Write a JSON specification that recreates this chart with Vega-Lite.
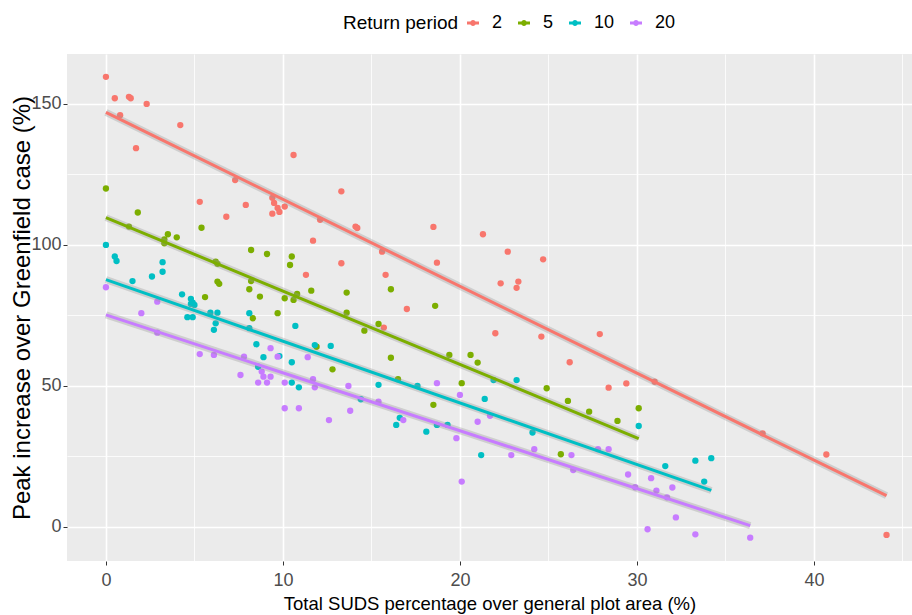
{
  "$schema": "https://vega.github.io/schema/vega-lite/v6.json",
  "width": 845,
  "height": 507,
  "autosize": {"type": "none"},
  "padding": {"left": 67, "top": 54, "right": 0, "bottom": 54},
  "background": "white",
  "config": {
    "view": {"fill": "#EBEBEB", "stroke": null},
    "axis": {
      "domain": false,
      "gridColor": "white",
      "tickColor": "#333333",
      "tickSize": 4,
      "tickWidth": 1,
      "labelColor": "#4D4D4D",
      "labelFont": "Liberation Sans",
      "labelFontSize": 18,
      "titleFontWeight": "normal",
      "titleColor": "black"
    },
    "legend": {
      "orient": "none",
      "legendX": 276,
      "legendY": -40,
      "direction": "horizontal",
      "titleOrient": "left",
      "titleFont": "Liberation Sans",
      "titleFontSize": 19,
      "titleFontWeight": "normal",
      "titleColor": "black",
      "titlePadding": 5,
      "labelFont": "Liberation Sans",
      "labelFontSize": 18,
      "labelColor": "black",
      "labelOffset": 10,
      "columnPadding": 9,
      "symbolSize": 144,
      "symbolStrokeWidth": 3,
      "symbolOpacity": 1
    }
  },
  "datasets": {
    "pts": [
      {"x": 0.0, "y": 159.6, "period": "2"},
      {"x": 0.5, "y": 152.0, "period": "2"},
      {"x": 1.3, "y": 152.5, "period": "2"},
      {"x": 1.4, "y": 152.0, "period": "2"},
      {"x": 2.3, "y": 150.0, "period": "2"},
      {"x": 0.8, "y": 146.0, "period": "2"},
      {"x": 4.2, "y": 142.5, "period": "2"},
      {"x": 1.7, "y": 134.3, "period": "2"},
      {"x": 7.3, "y": 123.0, "period": "2"},
      {"x": 5.3, "y": 115.3, "period": "2"},
      {"x": 7.9, "y": 114.2, "period": "2"},
      {"x": 9.4, "y": 116.7, "period": "2"},
      {"x": 9.5, "y": 114.9, "period": "2"},
      {"x": 9.7, "y": 113.1, "period": "2"},
      {"x": 10.1, "y": 113.6, "period": "2"},
      {"x": 9.8, "y": 111.7, "period": "2"},
      {"x": 9.4, "y": 111.1, "period": "2"},
      {"x": 6.8, "y": 110.0, "period": "2"},
      {"x": 10.6, "y": 131.9, "period": "2"},
      {"x": 13.3, "y": 119.0, "period": "2"},
      {"x": 12.1, "y": 108.9, "period": "2"},
      {"x": 14.1, "y": 106.5, "period": "2"},
      {"x": 14.2, "y": 106.0, "period": "2"},
      {"x": 18.5, "y": 106.4, "period": "2"},
      {"x": 11.7, "y": 101.5, "period": "2"},
      {"x": 15.6, "y": 97.6, "period": "2"},
      {"x": 18.7, "y": 93.7, "period": "2"},
      {"x": 13.3, "y": 93.5, "period": "2"},
      {"x": 11.3, "y": 89.4, "period": "2"},
      {"x": 15.8, "y": 89.4, "period": "2"},
      {"x": 17.0, "y": 77.3, "period": "2"},
      {"x": 15.7, "y": 70.7, "period": "2"},
      {"x": 21.3, "y": 103.8, "period": "2"},
      {"x": 22.7, "y": 97.6, "period": "2"},
      {"x": 24.7, "y": 94.9, "period": "2"},
      {"x": 22.3, "y": 86.4, "period": "2"},
      {"x": 23.3, "y": 87.0, "period": "2"},
      {"x": 23.2, "y": 84.8, "period": "2"},
      {"x": 22.0, "y": 68.7, "period": "2"},
      {"x": 24.6, "y": 67.5, "period": "2"},
      {"x": 27.9, "y": 68.4, "period": "2"},
      {"x": 26.2, "y": 58.4, "period": "2"},
      {"x": 28.4, "y": 49.4, "period": "2"},
      {"x": 29.4, "y": 50.9, "period": "2"},
      {"x": 31.0, "y": 51.5, "period": "2"},
      {"x": 37.1, "y": 33.2, "period": "2"},
      {"x": 40.7, "y": 25.7, "period": "2"},
      {"x": 44.1, "y": -2.8, "period": "2"},
      {"x": 0.0, "y": 120.0, "period": "5"},
      {"x": 1.8, "y": 111.5, "period": "5"},
      {"x": 1.3, "y": 106.5, "period": "5"},
      {"x": 3.5, "y": 103.8, "period": "5"},
      {"x": 4.0, "y": 102.7, "period": "5"},
      {"x": 3.3, "y": 102.0, "period": "5"},
      {"x": 3.3, "y": 100.6, "period": "5"},
      {"x": 5.4, "y": 106.1, "period": "5"},
      {"x": 6.2, "y": 94.1, "period": "5"},
      {"x": 6.3, "y": 93.3, "period": "5"},
      {"x": 6.3, "y": 87.0, "period": "5"},
      {"x": 6.4, "y": 86.2, "period": "5"},
      {"x": 5.6, "y": 81.5, "period": "5"},
      {"x": 8.2, "y": 98.2, "period": "5"},
      {"x": 9.1, "y": 96.8, "period": "5"},
      {"x": 8.2, "y": 87.2, "period": "5"},
      {"x": 8.1, "y": 84.3, "period": "5"},
      {"x": 8.7, "y": 81.7, "period": "5"},
      {"x": 8.3, "y": 74.0, "period": "5"},
      {"x": 9.7, "y": 75.8, "period": "5"},
      {"x": 10.5, "y": 95.9, "period": "5"},
      {"x": 10.4, "y": 92.9, "period": "5"},
      {"x": 10.1, "y": 81.1, "period": "5"},
      {"x": 10.6, "y": 80.5, "period": "5"},
      {"x": 10.8, "y": 82.6, "period": "5"},
      {"x": 11.6, "y": 83.8, "period": "5"},
      {"x": 13.6, "y": 83.1, "period": "5"},
      {"x": 16.1, "y": 84.3, "period": "5"},
      {"x": 18.6, "y": 78.4, "period": "5"},
      {"x": 13.6, "y": 76.0, "period": "5"},
      {"x": 14.6, "y": 69.6, "period": "5"},
      {"x": 15.4, "y": 72.0, "period": "5"},
      {"x": 11.9, "y": 63.9, "period": "5"},
      {"x": 16.1, "y": 60.0, "period": "5"},
      {"x": 12.8, "y": 55.9, "period": "5"},
      {"x": 16.5, "y": 52.4, "period": "5"},
      {"x": 19.4, "y": 61.0, "period": "5"},
      {"x": 20.6, "y": 61.0, "period": "5"},
      {"x": 21.0, "y": 58.3, "period": "5"},
      {"x": 20.1, "y": 51.0, "period": "5"},
      {"x": 18.5, "y": 43.3, "period": "5"},
      {"x": 24.9, "y": 49.2, "period": "5"},
      {"x": 26.1, "y": 44.7, "period": "5"},
      {"x": 27.3, "y": 40.9, "period": "5"},
      {"x": 28.9, "y": 37.6, "period": "5"},
      {"x": 30.1, "y": 42.1, "period": "5"},
      {"x": 25.7, "y": 25.8, "period": "5"},
      {"x": 0.0, "y": 100.0, "period": "10"},
      {"x": 0.5, "y": 95.9, "period": "10"},
      {"x": 0.6, "y": 94.3, "period": "10"},
      {"x": 1.5, "y": 87.2, "period": "10"},
      {"x": 2.6, "y": 88.8, "period": "10"},
      {"x": 3.2, "y": 93.9, "period": "10"},
      {"x": 3.2, "y": 90.5, "period": "10"},
      {"x": 4.3, "y": 82.5, "period": "10"},
      {"x": 4.8, "y": 80.9, "period": "10"},
      {"x": 4.9, "y": 79.5, "period": "10"},
      {"x": 4.8, "y": 79.1, "period": "10"},
      {"x": 5.0, "y": 78.7, "period": "10"},
      {"x": 4.6, "y": 74.4, "period": "10"},
      {"x": 4.9, "y": 74.4, "period": "10"},
      {"x": 5.9, "y": 76.0, "period": "10"},
      {"x": 6.3, "y": 76.0, "period": "10"},
      {"x": 6.2, "y": 72.2, "period": "10"},
      {"x": 6.1, "y": 69.9, "period": "10"},
      {"x": 8.1, "y": 75.8, "period": "10"},
      {"x": 8.1, "y": 70.5, "period": "10"},
      {"x": 8.5, "y": 64.8, "period": "10"},
      {"x": 8.9, "y": 60.2, "period": "10"},
      {"x": 8.6, "y": 56.8, "period": "10"},
      {"x": 10.7, "y": 71.3, "period": "10"},
      {"x": 9.8, "y": 60.6, "period": "10"},
      {"x": 10.5, "y": 58.4, "period": "10"},
      {"x": 11.8, "y": 64.5, "period": "10"},
      {"x": 12.7, "y": 64.2, "period": "10"},
      {"x": 10.5, "y": 51.2, "period": "10"},
      {"x": 10.9, "y": 49.5, "period": "10"},
      {"x": 14.4, "y": 45.3, "period": "10"},
      {"x": 15.4, "y": 50.4, "period": "10"},
      {"x": 17.6, "y": 50.0, "period": "10"},
      {"x": 16.4, "y": 36.2, "period": "10"},
      {"x": 16.6, "y": 38.7, "period": "10"},
      {"x": 18.1, "y": 33.8, "period": "10"},
      {"x": 18.7, "y": 36.2, "period": "10"},
      {"x": 19.3, "y": 36.2, "period": "10"},
      {"x": 21.9, "y": 52.1, "period": "10"},
      {"x": 23.2, "y": 52.1, "period": "10"},
      {"x": 21.4, "y": 45.4, "period": "10"},
      {"x": 24.1, "y": 33.5, "period": "10"},
      {"x": 21.2, "y": 25.5, "period": "10"},
      {"x": 30.1, "y": 35.8, "period": "10"},
      {"x": 31.6, "y": 21.6, "period": "10"},
      {"x": 33.3, "y": 23.5, "period": "10"},
      {"x": 34.2, "y": 24.4, "period": "10"},
      {"x": 33.8, "y": 16.1, "period": "10"},
      {"x": 0.0, "y": 85.0, "period": "20"},
      {"x": 2.9, "y": 79.9, "period": "20"},
      {"x": 2.0, "y": 75.8, "period": "20"},
      {"x": 2.9, "y": 68.9, "period": "20"},
      {"x": 5.3, "y": 61.3, "period": "20"},
      {"x": 6.1, "y": 61.0, "period": "20"},
      {"x": 7.8, "y": 60.4, "period": "20"},
      {"x": 9.3, "y": 63.4, "period": "20"},
      {"x": 9.7, "y": 60.4, "period": "20"},
      {"x": 7.6, "y": 53.9, "period": "20"},
      {"x": 8.8, "y": 55.1, "period": "20"},
      {"x": 8.9, "y": 53.3, "period": "20"},
      {"x": 9.3, "y": 53.3, "period": "20"},
      {"x": 8.6, "y": 51.2, "period": "20"},
      {"x": 9.1, "y": 51.2, "period": "20"},
      {"x": 11.4, "y": 60.2, "period": "20"},
      {"x": 10.1, "y": 51.2, "period": "20"},
      {"x": 11.7, "y": 52.4, "period": "20"},
      {"x": 11.8, "y": 49.5, "period": "20"},
      {"x": 13.7, "y": 50.0, "period": "20"},
      {"x": 10.1, "y": 42.1, "period": "20"},
      {"x": 10.9, "y": 42.1, "period": "20"},
      {"x": 12.6, "y": 37.9, "period": "20"},
      {"x": 13.8, "y": 41.2, "period": "20"},
      {"x": 15.4, "y": 44.4, "period": "20"},
      {"x": 16.8, "y": 37.9, "period": "20"},
      {"x": 18.7, "y": 51.0, "period": "20"},
      {"x": 20.0, "y": 46.8, "period": "20"},
      {"x": 19.8, "y": 31.5, "period": "20"},
      {"x": 21.0, "y": 37.3, "period": "20"},
      {"x": 21.7, "y": 39.4, "period": "20"},
      {"x": 20.1, "y": 16.1, "period": "20"},
      {"x": 22.9, "y": 25.5, "period": "20"},
      {"x": 24.2, "y": 27.6, "period": "20"},
      {"x": 26.3, "y": 25.5, "period": "20"},
      {"x": 26.4, "y": 20.2, "period": "20"},
      {"x": 27.8, "y": 27.6, "period": "20"},
      {"x": 28.4, "y": 27.6, "period": "20"},
      {"x": 29.5, "y": 18.6, "period": "20"},
      {"x": 30.8, "y": 17.3, "period": "20"},
      {"x": 29.9, "y": 14.1, "period": "20"},
      {"x": 31.1, "y": 12.9, "period": "20"},
      {"x": 32.0, "y": 14.0, "period": "20"},
      {"x": 31.7, "y": 10.5, "period": "20"},
      {"x": 32.2, "y": 3.4, "period": "20"},
      {"x": 30.6, "y": -0.8, "period": "20"},
      {"x": 33.3, "y": -2.6, "period": "20"},
      {"x": 36.4, "y": -3.8, "period": "20"}
    ]
  },
  "data": {"name": "pts"},
  "layer": [
    {
      "mark": {"type": "point", "filled": true, "size": 40, "opacity": 1},
      "encoding": {
        "x": {
          "field": "x", "type": "quantitative",
          "scale": {"domain": [-2.2, 45.54], "nice": false, "zero": false},
          "axis": {
            "values": [0, 10, 20, 30, 40],
            "grid": true, "gridWidth": 1.6,
            "labelPadding": 6,
            "title": "Total SUDS percentage over general plot area (%)",
            "titleFont": "Liberation Sans",
            "titleFontSize": 18.5,
            "titlePadding": 5
          }
        },
        "y": {
          "field": "y", "type": "quantitative",
          "scale": {"domain": [-12.06, 167.7], "nice": false, "zero": false},
          "axis": {
            "values": [0, 50, 100, 150],
            "grid": true, "gridWidth": 1.6,
            "labelPadding": 2,
            "title": "Peak increase over Greenfield case (%)",
            "titleFont": "Liberation Sans",
            "titleFontSize": 24,
            "titleX": -45,
            "titleBaseline": "middle"
          }
        },
        "fill": {
          "field": "period", "type": "nominal",
          "scale": {"domain": ["2", "5", "10", "20"], "range": ["#F8766D", "#7CAE00", "#00BFC4", "#C77CFF"]},
          "legend": null
        }
      }
    },
    {
      "transform": [{"regression": "y", "on": "x", "groupby": ["period"]}],
      "mark": {"type": "line", "strokeWidth": 7, "color": "#999999", "opacity": 0.35},
      "encoding": {
        "x": {"field": "x", "type": "quantitative", "axis": null},
        "y": {"field": "y", "type": "quantitative", "axis": null},
        "detail": {"field": "period", "type": "nominal"}
      }
    },
    {
      "transform": [{"regression": "y", "on": "x", "groupby": ["period"]}],
      "mark": {"type": "line", "strokeWidth": 3},
      "encoding": {
        "x": {
          "field": "x", "type": "quantitative",
          "axis": {"orient": "top", "values": [5, 15, 25, 35, 45], "grid": true, "gridWidth": 0.8, "labels": false, "ticks": false, "domain": false, "title": null}
        },
        "y": {
          "field": "y", "type": "quantitative",
          "axis": {"orient": "right", "values": [-25, 25, 75, 125], "grid": true, "gridWidth": 0.8, "labels": false, "ticks": false, "domain": false, "title": null}
        },
        "stroke": {
          "field": "period", "type": "nominal",
          "sort": ["2", "5", "10", "20"],
          "scale": {"range": ["#F8766D", "#7CAE00", "#00BFC4", "#C77CFF"]},
          "legend": {
            "title": "Return period",
            "symbolType": "M-1,0H1M-0.25,0A0.25,0.25 0 1,0 0.25,0A0.25,0.25 0 1,0 -0.25,0"
          }
        }
      }
    }
  ],
  "resolve": {"axis": {"x": "independent", "y": "independent"}}
}
